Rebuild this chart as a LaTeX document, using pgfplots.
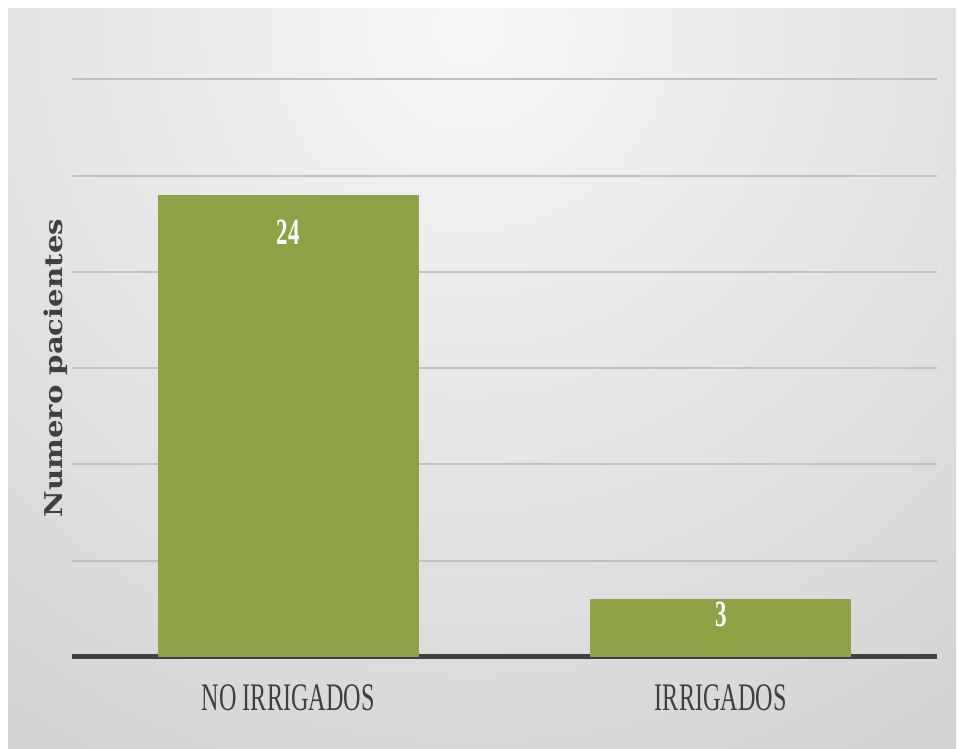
\documentclass[border=0pt]{standalone}
\usepackage{pgfplots}
\pgfplotsset{compat=1.18}
\usepackage{fontspec}
\setmainfont{Liberation Serif}
\newfontfamily\condfont{Liberation Serif}[FakeStretch=0.62]
\newfontfamily\labfont{DejaVu Serif}[FakeStretch=1.19]
\definecolor{barg}{RGB}{143,163,70}
\definecolor{txtg}{RGB}{64,64,64}
\definecolor{bgin}{RGB}{247,247,247}
\definecolor{bgout}{RGB}{198,198,198}
\definecolor{gridc}{RGB}{192,192,192}
\begin{document}
\begin{tikzpicture}[x=1pt,y=1pt]
\useasboundingbox (0,0) rectangle (958,749);
\fill[white] (0,0) rectangle (958,749);
\begin{scope}
\clip (8,0) rectangle (956,740);
\shade[inner color=bgin, outer color=bgout] (470,720) circle (1150);
\end{scope}
\begin{axis}[
  at={(72pt,92pt)}, anchor=south west,
  scale only axis, width=865pt, height=577.5pt,
  xmin=-0.5, xmax=1.5, ymin=0, ymax=30,
  axis x line=bottom, axis y line=left,
  x axis line style={line width=5pt, color=txtg, -},
  y axis line style={draw=none},
  xtick={0,1}, xticklabels={NO IRRIGADOS, IRRIGADOS},
  ytick={5,10,...,30}, yticklabels={},
  ymajorgrids, grid style={gridc, line width=2pt},
  major tick length=0pt,
  xticklabel style={font=\condfont\fontsize{39}{40}\selectfont, text=txtg, yshift=-24pt},
  ylabel={Numero pacientes},
  ylabel style={at={(axis description cs:-0.0185,0.5)}, anchor=center, font=\labfont\bfseries\fontsize{24.5}{26}\selectfont, text=txtg},
  ybar, bar width=261pt,
  nodes near coords,
  /pgf/number format/assume math mode=true,
  every node near coord/.append style={font=\condfont\bfseries\fontsize{37}{38}\selectfont, text=white, anchor=center},
  clip=false,
]
\addplot[fill=barg, draw=none, bar shift=0pt, every node near coord/.append style={yshift=-37pt}] coordinates {(0,24)};
\addplot[fill=barg, draw=none, bar shift=0pt, every node near coord/.append style={yshift=-15pt}] coordinates {(1,3)};
\end{axis}
\end{tikzpicture}
\end{document}
